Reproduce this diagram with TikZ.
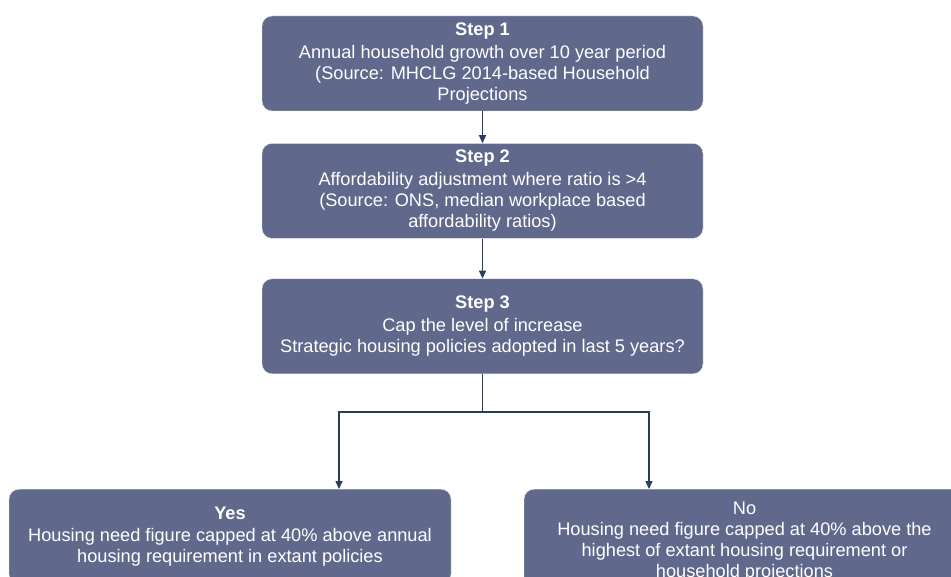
\documentclass[tikz,border=0pt]{standalone}
\usepackage{fontspec}
\setmainfont{Liberation Sans}
\usetikzlibrary{positioning, arrows.meta}
\definecolor{stepslate}{RGB}{96,105,140}
\definecolor{linknavy}{RGB}{40,60,92}

\tikzset{
  stepbox/.style={fill=stepslate, draw=white!85!stepslate, rounded corners=10pt, text=white,
    font=\fontsize{18.2}{21}\selectfont, align=center, minimum width=441pt, minimum height=95pt,
    inner sep=2pt},
  link/.style={draw=linknavy, line width=1.4pt, -{Triangle[length=8pt,width=7pt]}},
  branch/.style={draw=linknavy, line width=1.4pt}
}

\begin{document}
\begin{tikzpicture}[x=1pt, y=1pt]
\clip (0,0) rectangle (951,-577);
\fill[white] (0,0) rectangle (951,-577);

\node[stepbox] (step1) at (482.5,-63.5)
  {\textbf{Step 1}\\[2pt]
   Annual household growth over 10 year period\\
   (Source: MHCLG 2014-based Household\\
   Projections};
\node[stepbox, below=32pt of step1] (step2)
  {\textbf{Step 2}\\[2pt]
   Affordability adjustment where ratio is >4\\
   (Source: ONS, median workplace based\\
   affordability ratios)};
\node[stepbox, below=40pt of step2] (step3)
  {\textbf{Step 3}\\[2pt]
   Cap the level of increase\\
   Strategic housing policies adopted in last 5 years?};

% outcomes
\node[stepbox, anchor=north, minimum width=442pt] (yes) at (230,-489)
  {\textbf{Yes}\\[1pt]
   Housing need figure capped at 40\% above annual\\
   housing requirement in extant policies};
\node[stepbox, anchor=north, minimum height=104pt] (no) at (744.5,-489)
  {No\\
   Housing need figure capped at 40\% above the\\
   highest of extant housing requirement or\\
   household projections};

\draw[link] (step1) -- (step2);
\draw[link] (step2) -- (step3);
\draw[branch] (step3.south) -- ++(0,-38) coordinate (fork);
\draw[link] (fork) -| ([xshift=109pt]yes.north);
\draw[link] (fork) -| ([xshift=-95.5pt]no.north);
\end{tikzpicture}
\end{document}
